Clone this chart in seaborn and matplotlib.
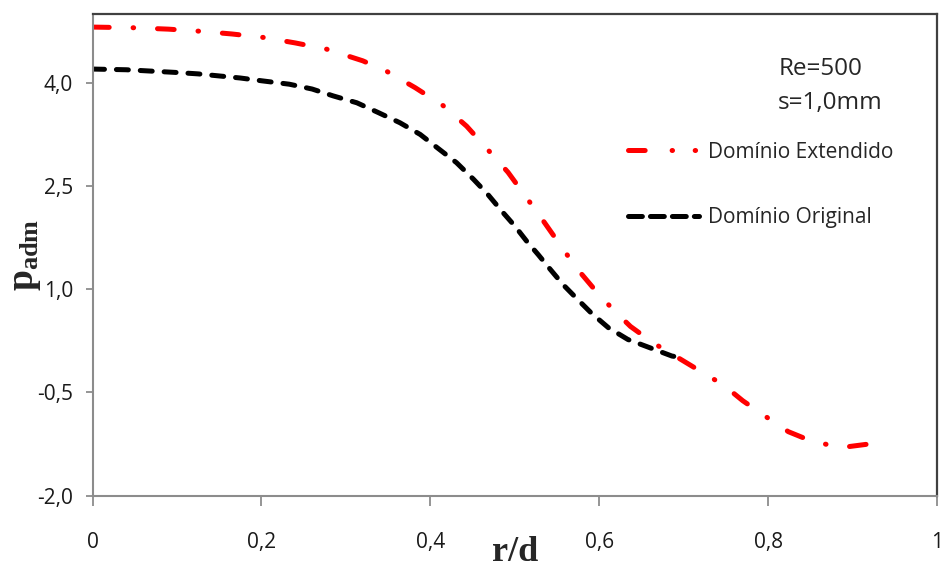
import matplotlib
matplotlib.use('Agg')
import matplotlib.pyplot as plt
from matplotlib.lines import Line2D
import seaborn as sns

# Domínio Extendido (curva vermelha)
r_ext = [0.0, 0.05, 0.09, 0.127, 0.165, 0.202, 0.24, 0.277, 0.32, 0.348, 0.382,
         0.415, 0.443, 0.468, 0.492, 0.514, 0.534, 0.554, 0.573, 0.595, 0.616,
         0.637, 0.664, 0.69, 0.717, 0.747, 0.770, 0.796, 0.824, 0.852, 0.887, 0.925]
p_ext = [4.81, 4.80, 4.78, 4.75, 4.71, 4.66, 4.58, 4.49, 4.32, 4.17, 3.93,
         3.67, 3.37, 3.03, 2.70, 2.33, 1.99, 1.64, 1.31, 0.99, 0.71,
         0.46, 0.22, 0.03, -0.17, -0.39, -0.62, -0.84, -1.07, -1.21, -1.30, -1.24]

# Domínio Original (curva preta)
r_orig = [0.0, 0.04, 0.07, 0.1, 0.125, 0.15, 0.175, 0.2, 0.233, 0.26, 0.285,
          0.313, 0.338, 0.364, 0.388, 0.411, 0.431, 0.451, 0.468, 0.485, 0.500,
          0.514, 0.528, 0.542, 0.557, 0.573, 0.591, 0.611, 0.634, 0.660, 0.686, 0.695]
p_orig = [4.20, 4.19, 4.17, 4.15, 4.13, 4.10, 4.07, 4.03, 3.98, 3.91, 3.81,
          3.71, 3.57, 3.42, 3.25, 3.03, 2.84, 2.60, 2.38, 2.13, 1.92,
          1.70, 1.50, 1.29, 1.07, 0.87, 0.65, 0.44, 0.27, 0.15, 0.03, 0.01]

xticks = [0, 0.2, 0.4, 0.6, 0.8, 1.0]
xticklabels = ['0', '0,2', '0,4', '0,6', '0,8', '1']
yticks = [-2.0, -0.5, 1.0, 2.5, 4.0]
yticklabels = ['-2,0', '-0,5', '1,0', '2,5', '4,0']

sns.set_style('white')
plt.rcParams['font.family'] = ['Open Sans', 'DejaVu Sans']
plt.rcParams['lines.scale_dashes'] = False
plt.rcParams['mathtext.fontset'] = 'custom'
plt.rcParams['mathtext.rm'] = 'Liberation Serif:bold'
plt.rcParams['mathtext.bf'] = 'Liberation Serif:bold'
plt.rcParams['mathtext.it'] = 'Liberation Serif:bold'

fig = plt.figure(figsize=(9.48, 5.72), dpi=100)
ax = fig.add_axes([0.0976, 0.1334, 0.8908, 0.8421])

lw = 3.6
sns.lineplot(x=r_ext, y=p_ext, ax=ax, color='#ff0000', linewidth=lw, sort=False)
ax.lines[-1].set_dashes((12, 17.2, 0.4, 17.2))
ax.lines[-1].set_dash_capstyle('round')
sns.lineplot(x=r_orig, y=p_orig, ax=ax, color='black', linewidth=lw, sort=False)
ax.lines[-1].set_dashes((8.6, 8.6))
ax.lines[-1].set_dash_capstyle('round')

ax.set_xlim(0, 1)
ax.set_ylim(-2, 5)
ax.set_xticks(xticks)
ax.set_xticklabels(xticklabels)
ax.set_yticks(yticks)
ax.set_yticklabels(yticklabels)
ax.tick_params(axis='x', direction='out', length=7, width=1.3, color='#8c8c8c',
               pad=19, labelsize=15, labelcolor='#1a1a1a', bottom=True)
ax.tick_params(axis='y', direction='out', length=5, width=1.3, color='#8c8c8c',
               pad=9, labelsize=15, labelcolor='#1a1a1a', left=True)

for s in ['left', 'bottom']:
    ax.spines[s].set_color('#8c8c8c')
    ax.spines[s].set_linewidth(1.5)
for s in ['top', 'right']:
    ax.spines[s].set_color('#404040')
    ax.spines[s].set_linewidth(1.6)

ax.set_xlabel('r/d', fontsize=26, fontweight='bold', family='Liberation Serif',
              labelpad=-12)
ax.set_ylabel(r'$\mathrm{p_{adm}}$', fontsize=27, labelpad=-4)

ax.text(0.812, 4.20, 'Re=500', fontsize=17.5, ha='left', va='center')
ax.text(0.811, 3.70, 's=1,0mm', fontsize=17.5, ha='left', va='center')

handles = [
    Line2D([], [], color='#ff0000', linewidth=lw, dashes=(12, 19.4, 0.3, 16.3, 0.3, 19),
           dash_capstyle='round'),
    Line2D([], [], color='black', linewidth=lw, dashes=(10, 5.8), dash_capstyle='round'),
]
ax.legend(handles, ['Domínio Extendido', 'Domínio Original'], loc='upper left',
          bbox_to_anchor=(0.634, 0.735), frameon=False, fontsize=15,
          handlelength=3.4, handletextpad=0.45, labelspacing=2.15, borderpad=0,
          borderaxespad=0)

fig.savefig('out.png', dpi=100)
